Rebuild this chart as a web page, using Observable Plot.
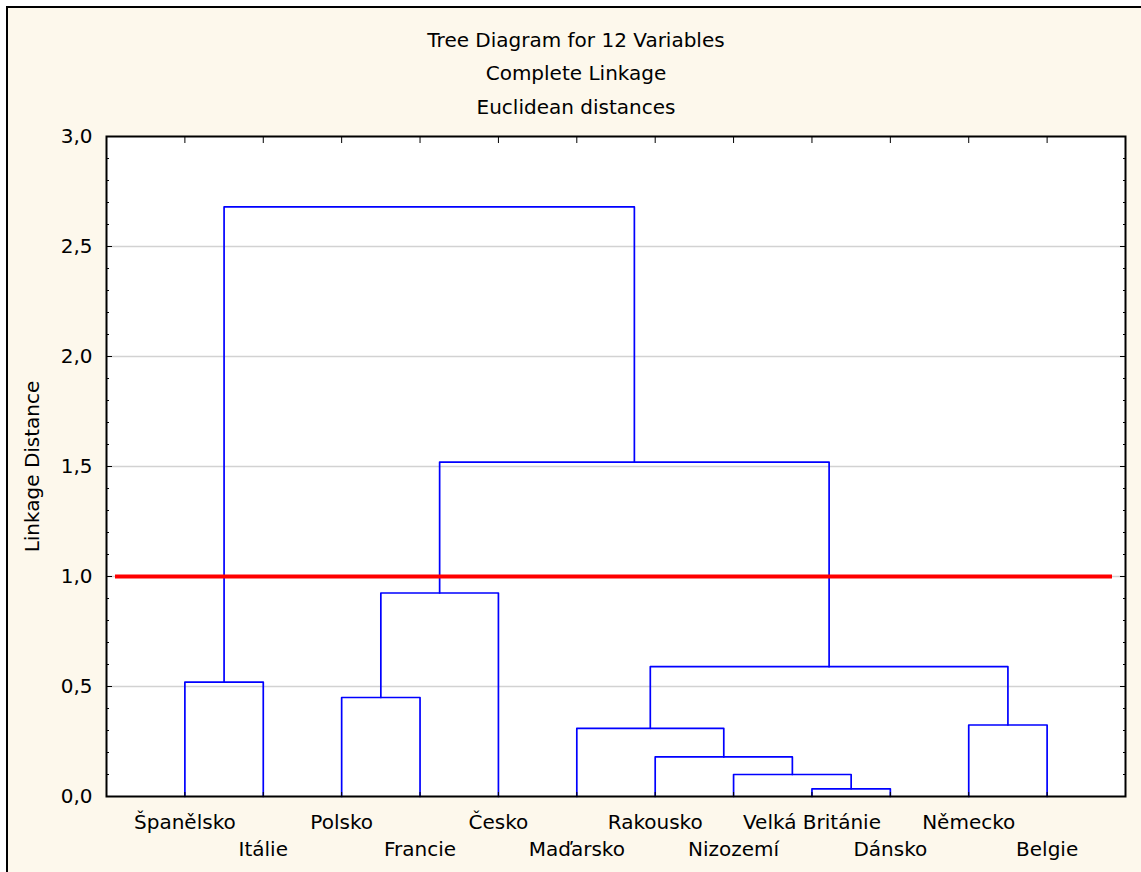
<!DOCTYPE html>
<html>
<head>
<meta charset="utf-8">
<script src="https://cdn.jsdelivr.net/npm/d3@7"></script>
<script src="https://cdn.jsdelivr.net/npm/@observablehq/plot@0.6"></script>
<style>
  html, body { margin: 0; padding: 0; background: #ffffff; }
  body { width: 1141px; height: 872px; overflow: hidden; position: relative; font-family: "DejaVu Sans", sans-serif; }
  #panel { position: absolute; left: 6px; top: 6px; width: 1160px; height: 900px;
           background: #fdf8ec; border-left: 2px solid #000; border-top: 2px solid #000; }
  #chart { position: absolute; left: 0; top: 0; }
  .title { position: absolute; left: 0; width: 1152px; text-align: center;
           font-size: 20px; line-height: 20px; color: #000; z-index: 2; }
</style>
</head>
<body>
<div id="panel"></div>
<div id="chart"></div>
<div class="title" style="top:30px">Tree Diagram for 12 Variables</div>
<div class="title" style="top:63px">Complete Linkage</div>
<div class="title" style="top:97px">Euclidean distances</div>
<script>
// Leaves in dendrogram order
const leafNames = ["Španělsko", "Itálie", "Polsko", "Francie", "Česko", "Maďarsko",
                   "Rakousko", "Nizozemí", "Velká Británie", "Dánsko", "Německo", "Belgie"];

// Agglomeration steps: node ids 0–11 are leaves, merge k creates node 12 + k
const mergeLeft   = [8, 7, 6, 5, 10, 2, 0, 15, 17, 20, 18];
const mergeRight  = [9, 12, 13, 14, 11, 3, 1, 16, 4, 19, 21];
const mergeHeight = [0.035, 0.10, 0.18, 0.31, 0.325, 0.45, 0.52, 0.59, 0.925, 1.52, 2.68];

// Cut level drawn across the tree
const cutHeight = 1.0;

// Axis ticks
const yMajor = [0, 0.5, 1, 1.5, 2, 2.5, 3];
const yGrid = [0.5, 1, 1.5, 2, 2.5];

// Node positions: leaves at 1..n, clusters at the midpoint of their children
const nodeX = leafNames.map((_, i) => i + 1);
const nodeH = leafNames.map(() => 0);
const links = [];
mergeHeight.forEach((h, k) => {
  const a = mergeLeft[k], b = mergeRight[k];
  const xa = nodeX[a], xb = nodeX[b];
  links.push(
    {id: k, x: xa, y: nodeH[a]},
    {id: k, x: xa, y: h},
    {id: k, x: xb, y: h},
    {id: k, x: xb, y: nodeH[b]}
  );
  nodeX.push((xa + xb) / 2);
  nodeH.push(h);
});

const leafIdx = leafNames.map((_, i) => i + 1);
const yMinor = d3.range(31).filter(i => i % 5 !== 0).map(i => i / 10);
const fmt = d => d.toFixed(1).replace(".", ",");

const chart = Plot.plot({
  width: 1141,
  height: 872,
  marginLeft: 106,
  marginRight: 16,
  marginTop: 136,
  marginBottom: 76,
  x: {type: "linear", domain: [0, leafNames.length + 1], axis: null},
  y: {domain: [0, 3], axis: null},
  style: {background: "transparent", fontFamily: "DejaVu Sans, sans-serif", fontSize: "20px", color: "#000", overflow: "visible"},
  marks: [
    Plot.frame({fill: "#ffffff", stroke: null}),
    Plot.gridY(yGrid, {stroke: "#d2d2d2", strokeOpacity: 1, strokeWidth: 1.5}),
    Plot.line(links, {x: "x", y: "y", z: "id", stroke: "#0000ff", strokeWidth: 1.7}),
    Plot.ruleY([cutHeight], {stroke: "#ff0000", strokeWidth: 4, insetLeft: 9, insetRight: 13}),
    // inward ticks on all four sides
    Plot.axisY(yMinor, {anchor: "left", tickSize: 3, dx: 3, fill: "none", label: null}),
    Plot.axisY(yMajor, {anchor: "left", tickSize: 6, dx: 6, fill: "none", label: null}),
    Plot.axisY(yMinor, {anchor: "right", tickSize: 3, dx: -3, fill: "none", label: null}),
    Plot.axisY(yMajor, {anchor: "right", tickSize: 6, dx: -6, fill: "none", label: null}),
    Plot.axisX(leafIdx, {anchor: "top", tickSize: 6, dy: 6, fill: "none", label: null}),
    Plot.axisX(leafIdx, {anchor: "bottom", tickSize: 4, dy: -4, fill: "none", label: null}),
    // tick labels
    Plot.axisY(yMajor, {anchor: "left", tickSize: 0, tickPadding: 14, tickFormat: fmt, label: null}),
    Plot.axisX(leafIdx.filter(i => i % 2 === 1), {anchor: "bottom", tickSize: 0, tickPadding: 18,
      tickFormat: i => leafNames[i - 1], label: null}),
    Plot.axisX(leafIdx.filter(i => i % 2 === 0), {anchor: "bottom", tickSize: 0, tickPadding: 45,
      tickFormat: i => leafNames[i - 1], label: null}),
    Plot.text(["Linkage Distance"], {frameAnchor: "left", textAnchor: "middle", rotate: -90, dx: -74,
      text: d => d, fill: "#000"}),
    Plot.frame({stroke: "#000", strokeWidth: 2})
  ]
});
document.getElementById("chart").appendChild(chart);
</script>
</body>
</html>
